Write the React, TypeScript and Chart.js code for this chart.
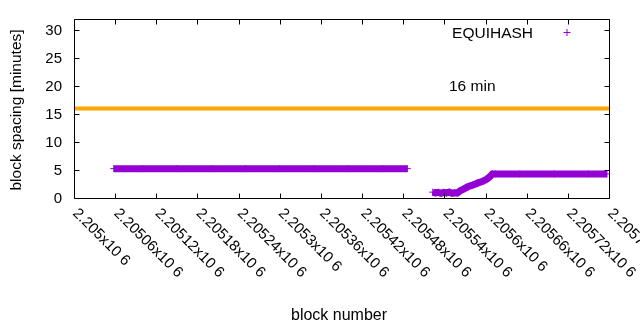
import React, { useEffect, useRef } from "react";
import { Chart, registerables } from "chart.js";

Chart.register(...registerables);

// ---- data ----
const seg1Blocks = [2205058, 2205100, 2205150, 2205200, 2205250, 2205300, 2205350, 2205400, 2205450, 2205486];
const seg1Values = [5.25, 5.25, 5.25, 5.25, 5.25, 5.25, 5.25, 5.25, 5.25, 5.25];

const seg2Blocks = [
  2205523, 2205527, 2205531, 2205535, 2205539, 2205543, 2205547, 2205551, 2205555, 2205559,
  2205563, 2205568, 2205574, 2205581, 2205589, 2205596, 2205602, 2205607, 2205610, 2205614,
  2205650, 2205700, 2205750, 2205777,
];
const seg2Values = [
  1.05, 0.9, 1.0, 0.85, 1.0, 0.9, 1.05, 0.85, 0.95, 0.9,
  1.3, 1.6, 2.0, 2.3, 2.7, 3.0, 3.4, 3.9, 4.3, 4.3,
  4.3, 4.3, 4.3, 4.3,
];

const targetBlocks = [2205000, 2205780];
const targetValues = [16, 16];

const xTickValues = [
  2205000, 2205060, 2205120, 2205180, 2205240, 2205300, 2205360,
  2205420, 2205480, 2205540, 2205600, 2205660, 2205720, 2205780,
];
const xTickLabels = [
  "2.205x10 6", "2.20506x10 6", "2.20512x10 6", "2.20518x10 6", "2.20524x10 6",
  "2.2053x10 6", "2.20536x10 6", "2.20542x10 6", "2.20548x10 6", "2.20554x10 6",
  "2.2056x10 6", "2.20566x10 6", "2.20572x10 6", "2.20578x10 6",
];
const yTickValues = [0, 5, 10, 15, 20, 25, 30];

const seriesName = "EQUIHASH";
const targetLabel = "16 min";
const xTitle = "block number";
const yTitle = "block spacing [minutes]";

const PURPLE = "#9400D3";
const ORANGE = "#FFA500";
const FAMILY = '"Liberation Sans", Arial, sans-serif';
const TICK_FONT = "15px " + FAMILY;
const TEXT_FONT = "15.5px " + FAMILY;
const TITLE_FONT = "16px " + FAMILY;

const gnuplotFrame = {
  id: "gnuplotFrame",
  afterDraw(chart: any) {
    const { ctx, chartArea: a, scales } = chart;
    const x = scales.x;
    const y = scales.y;
    const L = Math.round(a.left) + 0.5;
    const R = Math.round(a.right) + 0.5;
    const T = Math.round(a.top) + 0.5;
    const B = Math.round(a.bottom) + 0.5;
    const tl = 5;
    ctx.save();
    ctx.strokeStyle = "#000";
    ctx.lineWidth = 1;
    ctx.beginPath();
    ctx.rect(L, T, R - L, B - T);
    for (const v of xTickValues) {
      const px = Math.round(x.getPixelForValue(v)) + 0.5;
      ctx.moveTo(px, B);
      ctx.lineTo(px, B - tl);
      ctx.moveTo(px, T);
      ctx.lineTo(px, T + tl);
    }
    for (const v of yTickValues) {
      const py = Math.round(y.getPixelForValue(v)) + 0.5;
      ctx.moveTo(L, py);
      ctx.lineTo(L + tl, py);
      ctx.moveTo(R, py);
      ctx.lineTo(R - tl, py);
    }
    ctx.stroke();

    ctx.fillStyle = "#000";
    ctx.font = TICK_FONT;
    // y tick labels
    ctx.textAlign = "right";
    ctx.textBaseline = "alphabetic";
    for (const v of yTickValues) {
      const py = y.getPixelForValue(v);
      ctx.fillText(String(v), a.left - 12, py + 5);
    }
    // x tick labels rotated
    ctx.textAlign = "left";
    ctx.textBaseline = "middle";
    xTickValues.forEach((v, i) => {
      const px = x.getPixelForValue(v);
      ctx.save();
      ctx.translate(px + 1, a.bottom + 13);
      ctx.rotate(Math.PI / 4);
      ctx.fillText(xTickLabels[i], 0, 0);
      ctx.restore();
    });
    // axis titles
    ctx.font = TITLE_FONT;
    ctx.textAlign = "center";
    ctx.textBaseline = "alphabetic";
    ctx.fillText(xTitle, 339, 320);
    ctx.font = TEXT_FONT;
    ctx.save();
    ctx.translate(21, 110);
    ctx.rotate(-Math.PI / 2);
    ctx.fillText(yTitle, 0, 0);
    ctx.restore();

    // legend
    ctx.font = TEXT_FONT;
    ctx.textAlign = "right";
    ctx.fillText(seriesName, 533, 37.5);
    ctx.strokeStyle = PURPLE;
    ctx.beginPath();
    ctx.moveTo(563.5, 32.5);
    ctx.lineTo(570.5, 32.5);
    ctx.moveTo(567, 29);
    ctx.lineTo(567, 36);
    ctx.stroke();

    // label
    ctx.fillStyle = "#000";
    ctx.textAlign = "left";
    ctx.fillText(targetLabel, 449, 91);
    ctx.restore();
  },
};

export default function App() {
  const ref = useRef<HTMLCanvasElement | null>(null);
  useEffect(() => {
    if (!ref.current) return;
    const eqData: any[] = [];
    seg1Blocks.forEach((b, i) => eqData.push({ x: b, y: seg1Values[i] }));
    eqData.push({ x: 2205504, y: null });
    seg2Blocks.forEach((b, i) => eqData.push({ x: b, y: seg2Values[i] }));
    const tData = targetBlocks.map((b, i) => ({ x: b, y: targetValues[i] }));

    const chart = new Chart(ref.current, {
      type: "line",
      data: {
        datasets: [
          {
            label: seriesName,
            data: eqData,
            borderColor: PURPLE,
            backgroundColor: PURPLE,
            borderWidth: 7,
            borderCapStyle: "butt",
            borderJoinStyle: "miter",
            pointStyle: "cross",
            pointRadius: 3.5,
            pointBorderWidth: 1,
            pointBorderColor: PURPLE,
            spanGaps: false,
            tension: 0,
            fill: false,
          },
          {
            label: targetLabel,
            data: tData,
            borderColor: ORANGE,
            backgroundColor: ORANGE,
            borderWidth: 4,
            pointRadius: 0,
            tension: 0,
            fill: false,
          },
        ],
      },
      options: {
        animation: false,
        responsive: false,
        events: [],
        layout: { padding: { left: 74, right: 31, top: 19, bottom: 132 } },
        plugins: { legend: { display: false }, tooltip: { enabled: false }, title: { display: false } },
        scales: {
          x: { type: "linear", display: false, min: 2205000, max: 2205780 },
          y: { type: "linear", display: false, min: 0, max: 32 },
        },
      },
      plugins: [gnuplotFrame],
    });
    return () => chart.destroy();
  }, []);
  return (
    <div style={{ position: "absolute", left: 0, top: 0, width: 640, height: 330, background: "#fff" }}>
      <canvas ref={ref} width={640} height={330} style={{ width: 640, height: 330, display: "block" }} />
    </div>
  );
}
